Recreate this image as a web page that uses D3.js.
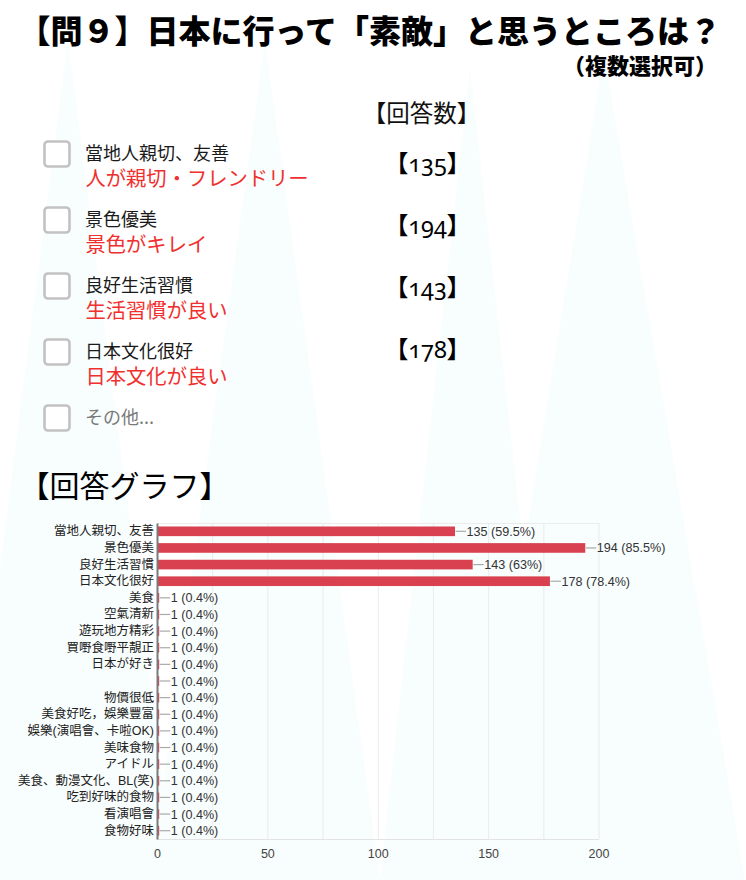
<!DOCTYPE html>
<html><head><meta charset="utf-8">
<script src="https://cdn.jsdelivr.net/npm/d3@7/dist/d3.min.js"></script>
<style>
html,body{margin:0;padding:0;background:#fff;}
svg{display:block;}
</style></head>
<body>
<script>
// ---- data ----
const titleText = "【問９】日本に行って「素敵」と思うところは？";
const subtitleText = "（複数選択可）";
const countHeader = "【回答数】";
const graphHeader = "【回答グラフ】";
const optionLabels = ["當地人親切、友善","景色優美","良好生活習慣","日本文化很好","その他..."];
const optionNotes = ["人が親切・フレンドリー","景色がキレイ","生活習慣が良い","日本文化が良い",""];
const optionCounts = [135,194,143,178];
const categories = ["當地人親切、友善","景色優美","良好生活習慣","日本文化很好","美食","空氣清新","遊玩地方精彩","買嘢食嘢平靚正","日本が好き","","物價很低","美食好吃，娛樂豐富","娛樂(演唱會、卡啦OK)","美味食物","アイドル","美食、動漫文化、BL(笑)","吃到好味的食物","看演唱會","食物好味"];
const values = [135,194,143,178,1,1,1,1,1,1,1,1,1,1,1,1,1,1,1];
const percents = ["59.5%","85.5%","63%","78.4%","0.4%","0.4%","0.4%","0.4%","0.4%","0.4%","0.4%","0.4%","0.4%","0.4%","0.4%","0.4%","0.4%","0.4%","0.4%"];
const xTicks = [0,50,100,150,200];
const gridTicks = [0,25,50,75,100,125,150,175,200];

const W = 746, H = 880;
const CJK = "'Noto Sans CJK JP','Noto Sans CJK SC',sans-serif";
const SANS = "'Liberation Sans',Arial,'Noto Sans CJK JP',sans-serif";

const svg = d3.select("body").append("svg").attr("width", W).attr("height", H);

// faint background peaks
const peaks = [[68,40,-40,175],[265,42,150,380],[470,70,380,560],[604,55,470,745]];
svg.append("g").selectAll("path").data(peaks).join("path")
  .attr("d", d => `M${d[0]},${d[1]} L${d[3]},${H} L${d[2]},${H} Z`)
  .attr("fill", "#f8fdfd");

// titles
svg.append("text").attr("x", 18.6).attr("y", 43).text(titleText)
  .style("font-family", CJK).style("font-weight", 900).style("font-size", "32px").attr("fill", "#000");
svg.append("text").attr("x", 717).attr("y", 74).attr("text-anchor", "end").text(subtitleText)
  .style("font-family", CJK).style("font-weight", 900).style("font-size", "22px").attr("fill", "#000");
svg.append("text").attr("x", 421.5).attr("y", 122).attr("text-anchor", "middle").text(countHeader)
  .style("font-family", CJK).style("font-size", "23.5px").attr("fill", "#111");

// option list
const rowY = d3.scaleLinear().domain([0, 1]).range([140, 206]);
const countY = d3.scaleLinear().domain([0, 1]).range([172, 234]);
const opts = svg.append("g");
opts.selectAll("rect").data(optionLabels).join("rect")
  .attr("x", 44.5).attr("y", (d, i) => rowY(i) + 1.5).attr("width", 25).attr("height", 25)
  .attr("rx", 3.5).attr("fill", "#fff").attr("stroke", "#c2c2c2").attr("stroke-width", 2.6);
opts.selectAll("text.lab").data(optionLabels).join("text").attr("class", "lab")
  .attr("x", 85).attr("y", (d, i) => rowY(i) + 20).text(d => d)
  .style("font-family", CJK).style("font-size", "18px")
  .attr("fill", (d, i) => i === optionLabels.length - 1 ? "#7a7a7a" : "#1a1a1a");
opts.selectAll("text.note").data(optionNotes).join("text").attr("class", "note")
  .attr("x", 85.5).attr("y", (d, i) => rowY(i) + 46).text(d => d)
  .style("font-family", CJK).style("font-size", "20.3px").attr("fill", "#f0302e");
const ct = opts.selectAll("text.cnt").data(optionCounts).join("text").attr("class", "cnt")
  .attr("x", 427.5).attr("y", (d, i) => countY(i)).attr("text-anchor", "middle")
  .style("font-size", "23.5px").attr("fill", "#000");
ct.append("tspan").style("font-family", CJK).style("font-weight", 700).text("【");
ct.append("tspan").style("font-family", "'Noto Sans',sans-serif").style("font-feature-settings", "'onum' 1")
  .style("font-variant-numeric", "oldstyle-nums").text(d => d);
ct.append("tspan").style("font-family", CJK).style("font-weight", 700).text("】");

svg.append("text").attr("x", 124.5).attr("y", 497).attr("text-anchor", "middle").text(graphHeader)
  .style("font-family", CJK).style("font-size", "30px").attr("fill", "#000");

// bar chart
const x = d3.scaleLinear().domain([0, 200]).range([157, 598.5]);
const y = d3.scaleBand().domain(d3.range(categories.length)).range([523, 839]).paddingInner(0.42).paddingOuter(0.21);
const g = svg.append("g");

g.selectAll("line.grid").data(gridTicks).join("line").attr("class", "grid")
  .attr("x1", d => x(d) + 0.5).attr("x2", d => x(d) + 0.5).attr("y1", 523).attr("y2", 839)
  .attr("stroke", "#ebebeb").attr("stroke-width", 1);
g.append("line").attr("x1", 157).attr("x2", x(200) + 0.5).attr("y1", 523.5).attr("y2", 523.5).attr("stroke", "#ebebeb");
g.append("line").attr("x1", 157).attr("x2", x(200) + 0.5).attr("y1", 839.5).attr("y2", 839.5).attr("stroke", "#e3e3e3");

g.selectAll("rect.bar").data(values).join("rect").attr("class", "bar")
  .attr("x", x(0)).attr("y", (d, i) => y(i)).attr("width", d => x(d) - x(0)).attr("height", y.bandwidth())
  .attr("fill", "#d94150");

g.selectAll("line.lead").data(values).join("line").attr("class", "lead")
  .attr("x1", d => x(d) + 0.5).attr("x2", d => x(d) + 11)
  .attr("y1", (d, i) => y(i) + y.bandwidth() / 2).attr("y2", (d, i) => y(i) + y.bandwidth() / 2)
  .attr("stroke", "#aaaaaa").attr("stroke-width", 1.2);

g.selectAll("text.val").data(values).join("text").attr("class", "val")
  .attr("x", d => x(d) + 11.5).attr("y", (d, i) => y(i) + y.bandwidth() / 2).attr("dy", "0.36em")
  .text((d, i) => `${d} (${percents[i]})`)
  .style("font-family", SANS).style("font-size", "12.6px").attr("fill", "#333");

// y axis
const yAxis = d3.axisLeft(y).tickSize(0).tickPadding(3).tickFormat(i => categories[i]);
const ya = g.append("g").attr("transform", `translate(${x(0)},0)`).call(yAxis);
ya.select(".domain").attr("stroke", "#7a7a7a").attr("stroke-width", 2);
ya.selectAll("text").style("font-family", SANS).style("font-size", "12.5px").attr("fill", "#222");

// x axis
const xAxis = d3.axisBottom(x).tickValues(xTicks).tickSize(0).tickPadding(10);
const xa = g.append("g").attr("transform", "translate(0,839)").call(xAxis);
xa.select(".domain").remove();
xa.selectAll("text").style("font-family", SANS).style("font-size", "12.5px").attr("fill", "#444");
</script>
</body></html>
